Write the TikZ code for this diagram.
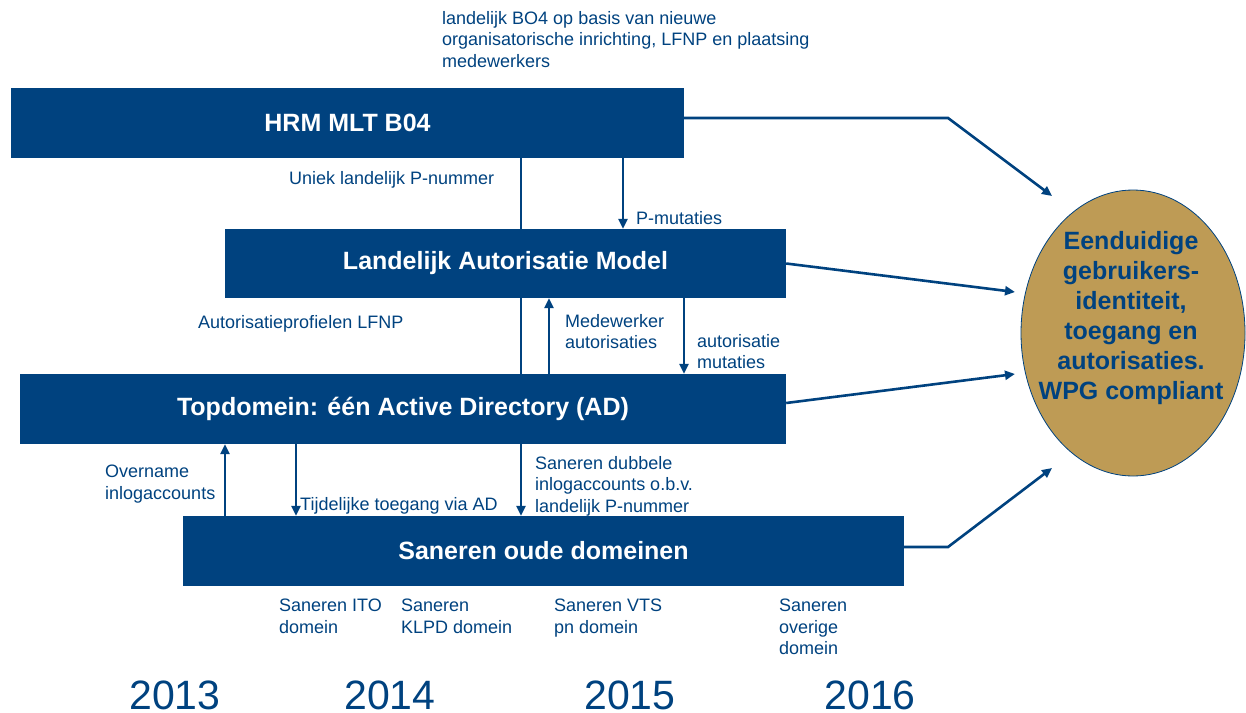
\documentclass[tikz,border=0pt]{standalone}
\usepackage{fontspec}
\setmainfont{Liberation Sans}
\usetikzlibrary{arrows.meta,shapes.geometric,calc}
\definecolor{boxblue}{RGB}{0,66,127}
\definecolor{gold}{RGB}{190,155,85}
\begin{document}
\begin{tikzpicture}[x=1pt,y=-1pt,
 box/.style={fill=boxblue, text=white, inner sep=0, font=\bfseries\fontsize{25}{29}\selectfont},
 lbl/.style={text=boxblue, anchor=north west, inner sep=0, align=left, font=\fontsize{18}{21.5}\selectfont},
 yr/.style={text=boxblue, inner sep=0, font=\fontsize{41}{48}\selectfont},
 con/.style={draw=boxblue, line width=2.6pt},
 arr/.style={con, -{Triangle[length=10pt,width=9pt]}}]
\useasboundingbox (0,0) rectangle (1246,712);

% boxes
\node[box, minimum width=673pt, minimum height=70pt] (hrm) at (347.5,123) {HRM MLT B04};
\node[box, minimum width=561pt, minimum height=69pt] (lam) at (505.5,263.5) {Landelijk Autorisatie Model};
\node[box, minimum width=766pt, minimum height=70pt] (top) at (403,409) {Topdomein: één Active Directory (AD)};
\node[box, minimum width=721pt, minimum height=70pt] (san) at (543.5,551) {Saneren oude domeinen};

% goal ellipse
\node[ellipse, draw=boxblue, line width=0.8pt, fill=gold, minimum width=224pt, minimum height=286pt, inner sep=0] (goal) at (1133,333) {};
\node[text=boxblue, align=center, inner sep=0, font=\bfseries\fontsize{25}{30}\selectfont] (goaltext) at (1131,318) {Eenduidige\\gebruikers-\\identiteit,\\toegang en\\autorisaties.\\WPG compliant};

% coordinates
\coordinate (xa) at (521,0);
\coordinate (xb) at (623,0);
\coordinate (xc) at (549,0);
\coordinate (xd) at (684,0);
\coordinate (xe) at (225,0);
\coordinate (xf) at (296,0);
\coordinate (b1) at (948,118);
\coordinate (t1) at (1052,196);
\coordinate (t2) at (1015,292);
\coordinate (t3) at (1015,374);
\coordinate (b2) at (948,547);
\coordinate (t4) at (1052,468);

% vertical connectors
\draw[con] (hrm.south -| xa) -- (lam.north -| xa);
\draw[con] (lam.south -| xa) -- (top.north -| xa);
\draw[arr] (hrm.south -| xb) -- (lam.north -| xb);
\draw[arr] (top.north -| xc) -- (lam.south -| xc);
\draw[arr] (lam.south -| xd) -- (top.north -| xd);
\draw[arr] (san.north -| xe) -- (top.south -| xe);
\draw[arr] (top.south -| xf) -- (san.north -| xf);
\draw[arr] (top.south -| xa) -- (san.north -| xa);

% connectors to the goal
\draw[arr] ($(hrm.east)+(0,-5)$) -- (b1) -- (t1);
\draw[arr] (lam.east) -- (t2);
\draw[arr] ($(top.east)+(0,-6)$) -- (t3);
\draw[arr] ($(san.east)+(0,-4)$) -- (b2) -- (t4);

% labels
\node[lbl] (l1) at (442,11) {landelijk BO4 op basis van nieuwe\\organisatorische inrichting, LFNP en plaatsing\\medewerkers};
\node[lbl] (l2) at (289,171) {Uniek landelijk P-nummer};
\node[lbl] (l3) at (636,211) {P-mutaties};
\node[lbl] (l4) at (198,315) {Autorisatieprofielen LFNP};
\node[lbl] (l5) at (565,314) {Medewerker\\autorisaties};
\node[lbl] (l6) at (697,334) {autorisatie\\mutaties};
\node[lbl] (l7) at (105,465) {Overname\\inlogaccounts};
\node[lbl] (l8) at (300,497) {Tijdelijke toegang via AD};
\node[lbl] (l9) at (535,456) {Saneren dubbele\\inlogaccounts o.b.v.\\landelijk P-nummer};
\node[lbl] (l10) at (279,599) {Saneren ITO\\domein};
\node[lbl] (l11) at (401,599) {Saneren\\KLPD domein};
\node[lbl] (l12) at (554,599) {Saneren VTS\\pn domein};
\node[lbl] (l13) at (779,599) {Saneren\\overige\\domein};

% years
\node[yr] (y1) at (175,695) {2013};
\node[yr] (y2) at (390,695) {2014};
\node[yr] (y3) at (630,695) {2015};
\node[yr] (y4) at (870,695) {2016};
\end{tikzpicture}
\end{document}
